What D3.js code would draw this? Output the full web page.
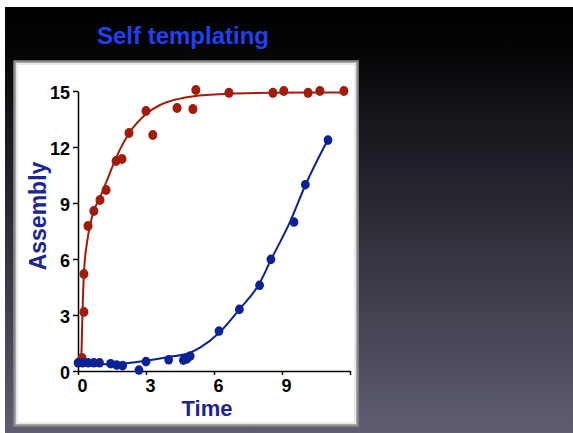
<!DOCTYPE html>
<meta charset="utf-8">
<style>
  body { margin: 0; background: #fff; }
  text { font-family: "Liberation Sans", Arial, sans-serif; font-weight: bold; }
  .axis path, .axis line { stroke: #000; stroke-width: 1.5px; }
  .axis text { font-size: 18px; fill: #000; }
</style>
<body>
<script src="https://cdn.jsdelivr.net/npm/d3@7"></script>
<script>

  // red series: fast assembly (seeded)
  var redT = [0.18, 0.26, 0.26, 0.44, 0.7, 0.97, 1.24, 1.68, 1.94, 2.25, 3.0, 3.3, 4.37, 5.07, 5.2, 6.66, 8.6, 9.08, 10.15, 10.67, 11.73];
  var redV = [0.7, 3.16, 5.2, 7.77, 8.57, 9.16, 9.7, 11.25, 11.36, 12.75, 13.93, 12.64, 14.09, 14.03, 15.05, 14.9, 14.9, 15.0, 14.9, 15.0, 15.0];

  // blue series: slow assembly (self templating)
  var blueT = [0, 0.2, 0.45, 0.7, 0.95, 1.44, 1.71, 1.97, 2.69, 3.0, 4.0, 4.65, 4.8, 4.95, 6.22, 7.12, 8.01, 8.51, 9.53, 10.03, 11.03];
  var blueV = [0.44, 0.44, 0.44, 0.44, 0.44, 0.39, 0.32, 0.29, 0.05, 0.5, 0.6, 0.58, 0.65, 0.8, 2.14, 3.3, 4.59, 5.98, 7.98, 9.98, 12.37];

  // fitted curves
  var redFitT = [0.13, 0.15, 0.2, 0.26, 0.4, 0.55, 0.69, 0.97, 1.24, 1.71, 2.29, 3.03, 3.62, 4.35, 5.1, 6.6, 8.5, 11.8];
  var redFitV = [0.5, 0.9, 3.2, 5.2, 6.9, 7.9, 8.55, 9.3, 10.1, 11.5, 12.8, 13.8, 14.25, 14.55, 14.72, 14.85, 14.9, 14.92];
  var blueFitT = [0, 0.5, 1.0, 1.5, 2.15, 3.0, 4.0, 4.94, 5.38, 6.23, 7.12, 8.01, 8.51, 9.36, 10.03, 11.03];
  var blueFitV = [0.45, 0.4, 0.37, 0.36, 0.42, 0.55, 0.75, 0.98, 1.25, 2.05, 3.3, 4.7, 5.95, 8.0, 9.95, 12.4];

  var xTicks = [0, 3, 6, 9, 12];
  var yTicks = [0, 3, 6, 9, 12, 15];

  var W = 573, H = 433;
  var svg = d3.select("body").append("svg").attr("width", W).attr("height", H);

  var grad = svg.append("defs").append("linearGradient")
      .attr("id", "bg").attr("x1", 0).attr("y1", 0).attr("x2", 0).attr("y2", 1);
  grad.append("stop").attr("offset", 0).attr("stop-color", "#000");
  grad.append("stop").attr("offset", 0.08).attr("stop-color", "#030305");
  grad.append("stop").attr("offset", 1).attr("stop-color", "#5e5d72");

  svg.append("rect").attr("width", W).attr("height", H).attr("fill", "#fff");
  svg.append("rect").attr("x", 5).attr("y", 7).attr("width", W - 5).attr("height", H - 7).attr("fill", "url(#bg)");

  svg.append("text").attr("x", 183).attr("y", 44).attr("text-anchor", "middle")
      .attr("fill", "#1f41f2").style("font-size", "24px").text("Self templating");

  // white chart panel
  svg.append("rect").attr("x", 14.5).attr("y", 61.5).attr("width", 343).attr("height", 364)
      .attr("fill", "#fff").attr("stroke", "#8c8c8c").attr("stroke-width", 2.5);
  svg.append("rect").attr("x", 17).attr("y", 64).attr("width", 338).attr("height", 359)
      .attr("fill", "none").attr("stroke", "#d4d4d4").attr("stroke-width", 1);

  var x = d3.scaleLinear().domain([0, 12]).range([78, 350]);
  var y = d3.scaleLinear().domain([0, 15]).range([371, 91]);

  svg.append("g").attr("class", "axis").attr("transform", "translate(0,371)")
      .call(d3.axisBottom(x).tickValues(xTicks).tickSize(4).tickSizeOuter(0)
        .tickFormat(d => d == 12 ? "" : d))
      .selectAll("text").attr("dx", 4).attr("dy", "0.8em");

  svg.append("g").attr("class", "axis").attr("transform", "translate(78,0)")
      .call(d3.axisLeft(y).tickValues(yTicks).tickSize(5).tickSizeOuter(0))
      .selectAll("text").attr("dy", "0.42em");

  svg.append("text").attr("transform", "translate(46,216) rotate(-90)")
      .attr("text-anchor", "middle").attr("fill", "#1d2590").style("font-size", "23px").text("Assembly");
  svg.append("text").attr("x", 207).attr("y", 416).attr("text-anchor", "middle")
      .attr("fill", "#1d2590").style("font-size", "22px").text("Time");

  var line = d3.line().x(d => x(d[0])).y(d => y(d[1])).curve(d3.curveMonotoneX);

  var red = "#a01c0c", blue = "#0b2196";

  svg.append("path").datum(d3.zip(redFitT, redFitV)).attr("d", line)
      .attr("fill", "none").attr("stroke", red).attr("stroke-width", 2);
  svg.append("g").selectAll("ellipse").data(d3.zip(redT, redV)).join("ellipse")
      .attr("cx", d => x(d[0])).attr("cy", d => y(d[1])).attr("rx", 4.5).attr("ry", 5)
      .attr("fill", red);

  svg.append("path").datum(d3.zip(blueFitT, blueFitV)).attr("d", line)
      .attr("fill", "none").attr("stroke", blue).attr("stroke-width", 2);
  svg.append("g").selectAll("ellipse").data(d3.zip(blueT, blueV)).join("ellipse")
      .attr("cx", d => x(d[0])).attr("cy", d => y(d[1])).attr("rx", 4.4).attr("ry", 4.8)
      .attr("fill", blue);

</script>
</body>
</html>
